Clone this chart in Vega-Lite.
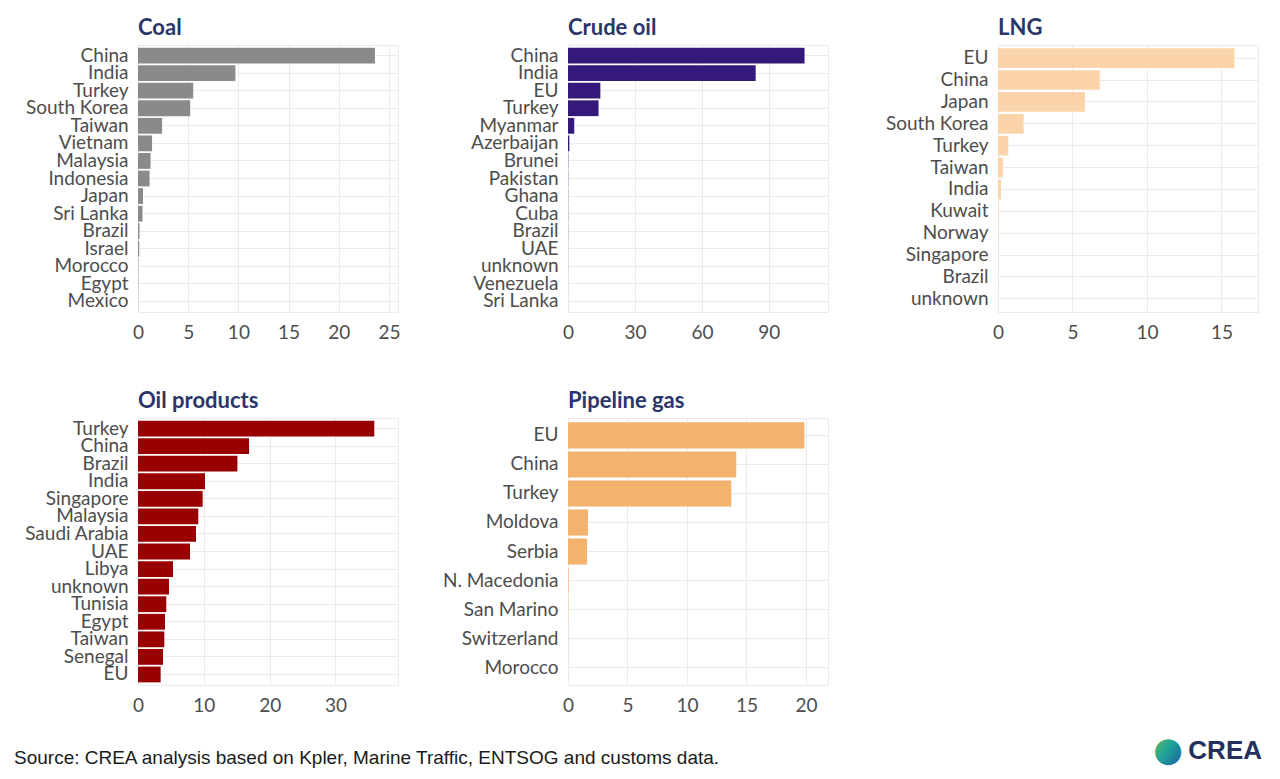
{
  "$schema": "https://vega.github.io/schema/vega-lite/v6.json",
  "background": "white",
  "padding": {"left": 14, "top": 16, "right": 10, "bottom": 5},
  "datasets": {
    "exports": [
      {"commodity": "Coal", "country": "China", "value": 23.6},
      {"commodity": "Coal", "country": "India", "value": 9.7},
      {"commodity": "Coal", "country": "Turkey", "value": 5.5},
      {"commodity": "Coal", "country": "South Korea", "value": 5.2},
      {"commodity": "Coal", "country": "Taiwan", "value": 2.4},
      {"commodity": "Coal", "country": "Vietnam", "value": 1.4},
      {"commodity": "Coal", "country": "Malaysia", "value": 1.25},
      {"commodity": "Coal", "country": "Indonesia", "value": 1.15},
      {"commodity": "Coal", "country": "Japan", "value": 0.5},
      {"commodity": "Coal", "country": "Sri Lanka", "value": 0.45},
      {"commodity": "Coal", "country": "Brazil", "value": 0.15},
      {"commodity": "Coal", "country": "Israel", "value": 0.12},
      {"commodity": "Coal", "country": "Morocco", "value": 0.04},
      {"commodity": "Coal", "country": "Egypt", "value": 0.03},
      {"commodity": "Coal", "country": "Mexico", "value": 0.02},
      {"commodity": "Crude oil", "country": "China", "value": 106},
      {"commodity": "Crude oil", "country": "India", "value": 84.1},
      {"commodity": "Crude oil", "country": "EU", "value": 14.5},
      {"commodity": "Crude oil", "country": "Turkey", "value": 13.7},
      {"commodity": "Crude oil", "country": "Myanmar", "value": 2.8},
      {"commodity": "Crude oil", "country": "Azerbaijan", "value": 0.6},
      {"commodity": "Crude oil", "country": "Brunei", "value": 0.1},
      {"commodity": "Crude oil", "country": "Pakistan", "value": 0.08},
      {"commodity": "Crude oil", "country": "Ghana", "value": 0.07},
      {"commodity": "Crude oil", "country": "Cuba", "value": 0.06},
      {"commodity": "Crude oil", "country": "Brazil", "value": 0.05},
      {"commodity": "Crude oil", "country": "UAE", "value": 0.04},
      {"commodity": "Crude oil", "country": "unknown", "value": 0.03},
      {"commodity": "Crude oil", "country": "Venezuela", "value": 0.02},
      {"commodity": "Crude oil", "country": "Sri Lanka", "value": 0.01},
      {"commodity": "LNG", "country": "EU", "value": 15.87},
      {"commodity": "LNG", "country": "China", "value": 6.83},
      {"commodity": "LNG", "country": "Japan", "value": 5.84},
      {"commodity": "LNG", "country": "South Korea", "value": 1.72},
      {"commodity": "LNG", "country": "Turkey", "value": 0.69},
      {"commodity": "LNG", "country": "Taiwan", "value": 0.33},
      {"commodity": "LNG", "country": "India", "value": 0.2},
      {"commodity": "LNG", "country": "Kuwait", "value": 0.03},
      {"commodity": "LNG", "country": "Norway", "value": 0.02},
      {"commodity": "LNG", "country": "Singapore", "value": 0.015},
      {"commodity": "LNG", "country": "Brazil", "value": 0.01},
      {"commodity": "LNG", "country": "unknown", "value": 0.005},
      {"commodity": "Oil products", "country": "Turkey", "value": 35.9},
      {"commodity": "Oil products", "country": "China", "value": 16.87},
      {"commodity": "Oil products", "country": "Brazil", "value": 15.1},
      {"commodity": "Oil products", "country": "India", "value": 10.18},
      {"commodity": "Oil products", "country": "Singapore", "value": 9.82},
      {"commodity": "Oil products", "country": "Malaysia", "value": 9.16},
      {"commodity": "Oil products", "country": "Saudi Arabia", "value": 8.81},
      {"commodity": "Oil products", "country": "UAE", "value": 7.9},
      {"commodity": "Oil products", "country": "Libya", "value": 5.32},
      {"commodity": "Oil products", "country": "unknown", "value": 4.71},
      {"commodity": "Oil products", "country": "Tunisia", "value": 4.3},
      {"commodity": "Oil products", "country": "Egypt", "value": 4.1},
      {"commodity": "Oil products", "country": "Taiwan", "value": 4.0},
      {"commodity": "Oil products", "country": "Senegal", "value": 3.8},
      {"commodity": "Oil products", "country": "EU", "value": 3.44},
      {"commodity": "Pipeline gas", "country": "EU", "value": 19.86},
      {"commodity": "Pipeline gas", "country": "China", "value": 14.14},
      {"commodity": "Pipeline gas", "country": "Turkey", "value": 13.72},
      {"commodity": "Pipeline gas", "country": "Moldova", "value": 1.68},
      {"commodity": "Pipeline gas", "country": "Serbia", "value": 1.6},
      {"commodity": "Pipeline gas", "country": "N. Macedonia", "value": 0.05},
      {"commodity": "Pipeline gas", "country": "San Marino", "value": 0.02},
      {"commodity": "Pipeline gas", "country": "Switzerland", "value": 0.01},
      {"commodity": "Pipeline gas", "country": "Morocco", "value": 0.005}
    ],
    "footer": [
      {"label": "Source: CREA analysis based on Kpler, Marine Traffic, ENTSOG and customs data.", "pos": 0},
      {"label": "CREA", "pos": 1}
    ]
  },
  "config": {
    "font": "Lato",
    "view": {"stroke": "#ebebeb", "strokeWidth": 1},
    "axis": {"labelFont": "Lato", "labelFontSize": 19, "labelColor": "#4d4d4d", "ticks": false, "domain": false, "gridColor": "#ebebeb", "gridWidth": 1, "title": null, "labelFlush": false},
    "axisX": {"labelPadding": 11},
    "axisY": {"labelPadding": 10},
    "title": {"font": "Lato", "fontSize": 22, "fontWeight": "bold", "color": "#2a3669", "anchor": "start", "frame": "group", "offset": 5}
  },
  "spacing": 18,
  "vconcat": [
    {
      "columns": 3,
      "spacing": {"column": 170, "row": 106},
      "bounds": "flush",
      "concat": [
        {
          "title": "Coal",
          "width": 260, "height": 267,
          "data": {"name": "exports"},
          "transform": [{"filter": "datum.commodity === 'Coal'"}],
          "mark": {"type": "bar", "color": "#8a8a8a"},
          "encoding": {
            "y": {"field": "country", "type": "nominal", "sort": "-x", "scale": {"paddingInner": 0.1, "paddingOuter": 0.15}, "axis": {"bandPosition": 0.5, "grid": true}},
            "x": {"field": "value", "type": "quantitative", "scale": {"domain": [0, 25.9], "nice": false}, "axis": {"values": [0, 5, 10, 15, 20, 25], "grid": true}}
          }
        },
        {
          "title": "Crude oil",
          "width": 260, "height": 267,
          "data": {"name": "exports"},
          "transform": [{"filter": "datum.commodity === 'Crude oil'"}],
          "mark": {"type": "bar", "color": "#35197a"},
          "encoding": {
            "y": {"field": "country", "type": "nominal", "sort": "-x", "scale": {"paddingInner": 0.1, "paddingOuter": 0.15}, "axis": {"bandPosition": 0.5, "grid": true}},
            "x": {"field": "value", "type": "quantitative", "scale": {"domain": [0, 116.5], "nice": false}, "axis": {"values": [0, 30, 60, 90], "grid": true}}
          }
        },
        {
          "title": "LNG",
          "width": 260, "height": 267,
          "data": {"name": "exports"},
          "transform": [{"filter": "datum.commodity === 'LNG'"}],
          "mark": {"type": "bar", "color": "#fbd3a9"},
          "encoding": {
            "y": {"field": "country", "type": "nominal", "sort": "-x", "scale": {"paddingInner": 0.1, "paddingOuter": 0.15}, "axis": {"bandPosition": 0.5, "grid": true}},
            "x": {"field": "value", "type": "quantitative", "scale": {"domain": [0, 17.45], "nice": false}, "axis": {"values": [0, 5, 10, 15], "grid": true}}
          }
        },
        {
          "title": "Oil products",
          "width": 260, "height": 267,
          "data": {"name": "exports"},
          "transform": [{"filter": "datum.commodity === 'Oil products'"}],
          "mark": {"type": "bar", "color": "#990000"},
          "encoding": {
            "y": {"field": "country", "type": "nominal", "sort": "-x", "scale": {"paddingInner": 0.1, "paddingOuter": 0.15}, "axis": {"bandPosition": 0.5, "grid": true}},
            "x": {"field": "value", "type": "quantitative", "scale": {"domain": [0, 39.5], "nice": false}, "axis": {"values": [0, 10, 20, 30], "grid": true}}
          }
        },
        {
          "title": "Pipeline gas",
          "width": 260, "height": 267,
          "data": {"name": "exports"},
          "transform": [{"filter": "datum.commodity === 'Pipeline gas'"}],
          "mark": {"type": "bar", "color": "#f4b26f"},
          "encoding": {
            "y": {"field": "country", "type": "nominal", "sort": "-x", "scale": {"paddingInner": 0.1, "paddingOuter": 0.15}, "axis": {"bandPosition": 0.5, "grid": true}},
            "x": {"field": "value", "type": "quantitative", "scale": {"domain": [0, 21.85], "nice": false}, "axis": {"values": [0, 5, 10, 15, 20], "grid": true}}
          }
        }
      ]
    },
    {
      "width": 1124, "height": 30,
      "view": {"stroke": null},
      "data": {"name": "footer"},
      "layer": [
        {
          "transform": [{"filter": "datum.pos === 0"}],
          "mark": {"type": "text", "align": "left", "dx": -124, "font": "Liberation Sans", "fontSize": 19, "color": "#1a1a1a"},
          "encoding": {
            "x": {"field": "pos", "type": "quantitative", "scale": {"domain": [0, 1], "nice": false}, "axis": null},
            "text": {"field": "label"}
          }
        },
        {
          "transform": [{"filter": "datum.pos === 1"}],
          "mark": {"type": "text", "align": "right", "dy": -7, "font": "Liberation Sans", "fontWeight": "bold", "fontSize": 26, "color": "#24305e"},
          "encoding": {
            "x": {"field": "pos", "type": "quantitative", "scale": {"domain": [0, 1], "nice": false}, "axis": null},
            "text": {"field": "label"}
          }
        },
        {
          "transform": [{"filter": "datum.pos === 1"}],
          "mark": {"type": "text", "align": "right", "dy": -7, "text": "●", "font": "DejaVu Sans", "fontSize": 34, "dx": -79, "color": {"gradient": "linear", "x1": 0, "y1": 0, "x2": 1, "y2": 1, "stops": [{"offset": 0, "color": "#6cc04a"}, {"offset": 0.5, "color": "#1fa39a"}, {"offset": 1, "color": "#1e4f9c"}]}},
          "encoding": {
            "x": {"field": "pos", "type": "quantitative", "scale": {"domain": [0, 1], "nice": false}, "axis": null}
          }
        }
      ]
    }
  ]
}
